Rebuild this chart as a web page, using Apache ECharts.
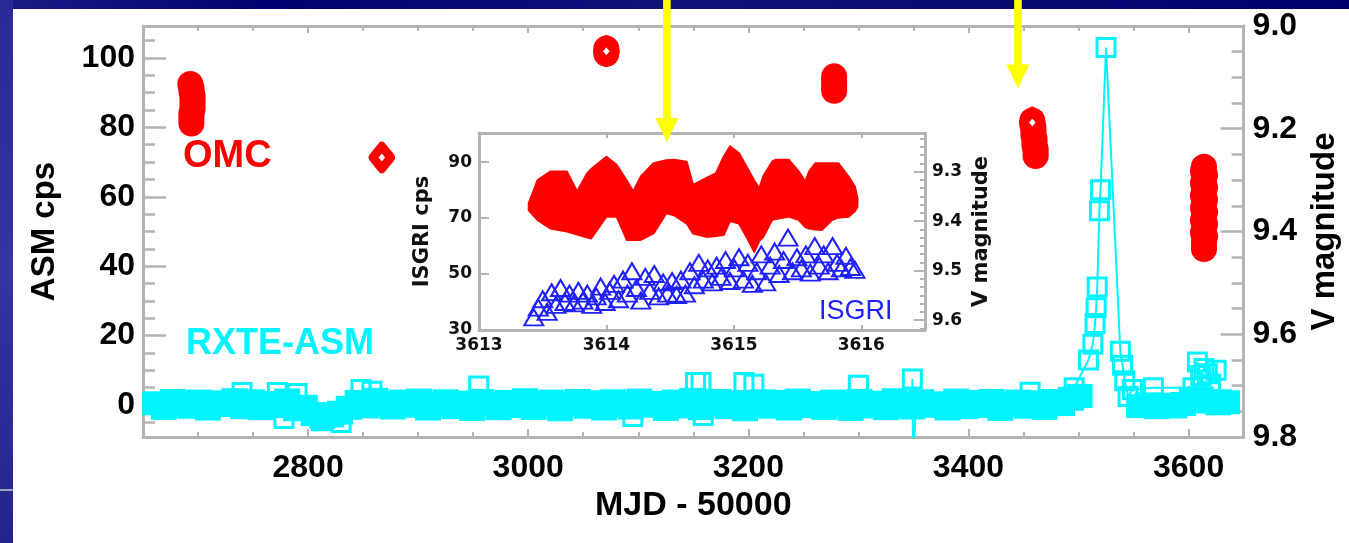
<!DOCTYPE html>
<html>
<head>
<meta charset="utf-8">
<script src="https://cdn.jsdelivr.net/npm/echarts@6/dist/echarts.min.js"></script>
<style>
  html, body { margin: 0; padding: 0; background: #fff; }
  #chart { width: 1349px; height: 543px; }
</style>
</head>
<body>
<div id="chart"></div>
<script>
// RXTE-ASM quiescent level, 8 d sampling (cps)
const asmQuietStart = 2661
const asmLateStart = 3555
const asmStep = 8
const asmQuiet = [
  0.5, -0.8, 1.2, 0.2, -0.5, 1.0, -1.0, 0.8, 0.0, 1.4,
  -0.6, 1.1, -0.9, 0.6, -0.3, 1.3, -1.2, -0.5, -2.6, -3.4,
  -3.0, -2.2, -0.8, 0.9, -0.4, 1.5, 0.2, -0.7, 1.0, -0.2,
  1.3, -1.0, 0.4, 1.1, -0.6, 0.7, -1.1, 1.2, 0.1, -0.9,
  0.9, -0.3, 1.4, -0.8, 0.5, 1.0, -1.2, 0.3, 1.2, -0.5,
  0.8, -1.0, 1.1, 0.0, -0.7, 1.3, -0.2, 0.6, -1.1, 1.0,
  -0.4, 1.5, -0.9, 0.4, 1.2, -0.6, 0.8, -1.2, 0.2, 1.1,
  -0.5, 0.9, -1.0, 1.3, -0.3, 0.6, -0.8, 1.0, 0.1, -1.1,
  1.2, -0.4, 0.7, -0.9, 1.4, 0.0, -0.7, 1.1, -0.2, 0.5,
  -1.0, 1.3, -0.6, 0.9, -0.3, 1.2, -1.1, 0.4, 1.0, -0.5,
  0.8, -0.8, 1.2, 0.3, 1.8, 2.6
]
const asmLate = [-0.3, 0.2, -0.6, 0.1, -0.4, 0.3, 1.5, 2.0, 1.0, 0.5, 0.8]

// isolated ASM points sticking out of the quiescent band
const asmOutlierDay = [2740, 2772, 2778, 2790, 2812, 2830, 2848, 2858, 2955, 3095, 3152, 3157, 3159, 3196, 3205, 3300, 3456]
const asmOutlierRate = [3.6, 3.6, -3.9, 3.3, -4.5, -5.0, 4.5, 4.0, 5.5, -3.3, 6.5, 6.5, -3.0, 6.5, 6.0, 5.7, 3.7]

// dropout near MJD 53350
const asmSpikeDay = [3349, 3350, 3352]
const asmSpikeRate = [7.5, -20, 0.5]

// the outburst
const asmFlareDay = [
  3496, 3509, 3513, 3515, 3516, 3517, 3519, 3520, 3525, 3538,
  3540, 3542, 3545, 3549, 3568, 3604, 3608, 3611, 3614, 3617,
  3620, 3625, 3630, 3636
]
const asmFlareRate = [
  5.0, 13.0, 17.5, 23.5, 28.0, 34.0, 56.0, 62.0, 103.0, 15.5,
  11.5, 7.0, 2.5, 4.5, 5.0, 5.0, 12.4, 8.5, 10.5, 9.0,
  6.0, 10.0, 1.5, 0.5
]

// OMC V magnitude, main panel (five visits)
const omcDay = [
  2693, 2694, 2694, 2695, 2695, 2695, 2695, 2695, 2694, 2694, 2694, 2694,
  3071, 3071, 3071,
  3278, 3278, 3278, 3278, 3278,
  3458, 3458, 3459, 3459, 3459, 3460, 3460, 3460, 3461, 3461, 3461,
  3614, 3613, 3615, 3614, 3613, 3615, 3614, 3613, 3615, 3614, 3613,
  3615, 3614, 3613, 3615, 3614, 3613, 3615, 3614, 3614, 3614
]
const omcMag = [
  9.113, 9.12, 9.127, 9.134, 9.141, 9.148, 9.155, 9.162, 9.169, 9.176, 9.183, 9.19,
  9.044, 9.049, 9.054,
  9.098, 9.105, 9.112, 9.119, 9.126,
  9.184, 9.191, 9.198, 9.205, 9.212, 9.219, 9.226, 9.233, 9.24, 9.247, 9.253,
  9.274, 9.282, 9.29, 9.298, 9.306, 9.314, 9.322, 9.33, 9.338, 9.346, 9.354,
  9.362, 9.37, 9.378, 9.386, 9.394, 9.402, 9.41, 9.418, 9.426, 9.434
]
const omcRingDay = [2867, 3071, 3458]
const omcRingMag = [9.256, 9.049, 9.188]

// inset: ISGRI rate, 0.035 d bins
const isgriStart = 3613.43
const isgriStep = 0.035
const isgriRate = [
  34.5, 38, 41, 36.5, 43.5, 39, 45, 40, 43, 39.5,
  44, 40.5, 43, 39, 42, 45.5, 40, 44, 46.5, 41,
  48, 43, 51, 45, 40.5, 49, 44, 50, 42, 47,
  43, 47.5, 42.5, 48, 43, 51, 46, 54, 48, 52,
  47, 53, 49, 55, 47.5, 52, 56, 48, 54, 46.5,
  51, 57, 47, 53, 58, 50, 55, 63, 51, 56,
  52, 57, 50.5, 60, 53, 57, 51, 60, 54, 52,
  56.5, 52.5, 51.5
]

// inset: OMC band (bright and faint envelope, V mag)
const omcInsetDay = [
  3613.39, 3613.46, 3613.56, 3613.69, 3613.77, 3613.85, 3613.88, 3614.00, 3614.08, 3614.16,
  3614.21, 3614.27, 3614.37, 3614.47, 3614.53, 3614.63, 3614.68, 3614.79, 3614.86, 3614.92,
  3614.97, 3615.04, 3615.10, 3615.16, 3615.20, 3615.23, 3615.30, 3615.33, 3615.43, 3615.51,
  3615.56, 3615.59, 3615.64, 3615.69, 3615.77, 3615.82, 3615.90, 3615.95, 3615.97
]
const omcInsetBright = [
  9.364, 9.317, 9.300, 9.300, 9.340, 9.303, 9.295, 9.270, 9.286, 9.318,
  9.340, 9.310, 9.283, 9.277, 9.276, 9.280, 9.327, 9.312, 9.303, 9.270,
  9.249, 9.263, 9.290, 9.318, 9.334, 9.310, 9.280, 9.276, 9.276, 9.300,
  9.320, 9.300, 9.283, 9.283, 9.283, 9.283, 9.310, 9.330, 9.354
]
const omcInsetFaint = [
  9.378, 9.398, 9.415, 9.421, 9.427, 9.433, 9.435, 9.391, 9.391, 9.438,
  9.438, 9.438, 9.425, 9.384, 9.388, 9.405, 9.425, 9.432, 9.430, 9.428,
  9.400, 9.405, 9.432, 9.462, 9.440, 9.432, 9.398, 9.396, 9.391, 9.398,
  9.412, 9.415, 9.417, 9.418, 9.398, 9.393, 9.391, 9.380, 9.371
]

// yellow arrows (MJD-50000, tip in ASM cps)
const arrowDay = [3126, 3445]
const arrowTipRate = [75.8, 91.2]

const RED = '#ff0000'
const CYAN = '#00f4ff'
const BLUE = '#2020ff'
const AXIS = '#b4b4b4'
const SANS = 'Liberation Sans'
const INSET_FONT = 'DejaVu Sans'

const chart = echarts.init(document.getElementById('chart'), null, { renderer: 'canvas' })

const asmQuietData = asmQuiet.map((v, i) => [asmQuietStart + asmStep * i, v])
  .concat(asmLate.map((v, i) => [asmLateStart + asmStep * i, v]))

function pairs(xs, ys) {
  return xs.map((x, i) => [x, ys[i]])
}

function mainAxisLabel(extra) {
  return Object.assign({
    fontFamily: SANS, fontWeight: 'bold', fontSize: 32, color: '#000'
  }, extra)
}

function insetLabel(extra) {
  return Object.assign({
    fontFamily: INSET_FONT, fontWeight: 'bold', fontSize: 17, color: '#111'
  }, extra)
}

const plain = v => String(v)
const oneDecimal = v => v.toFixed(1)

const axisLine = { show: true, onZero: false, lineStyle: { color: AXIS, width: 3 } }

function omcBandItem(params, api) {
  const upper = omcInsetDay.map((d, i) => api.coord([d, omcInsetBright[i]]))
  const lower = omcInsetDay.map((d, i) => api.coord([d, omcInsetFaint[i]])).reverse()
  return {
    type: 'polygon',
    shape: { points: upper.concat(lower) },
    style: { fill: RED, stroke: RED, lineWidth: 2, lineJoin: 'round' }
  }
}

const asmSquare = {
  symbol: 'rect', symbolSize: 18,
  itemStyle: { color: 'rgba(0,0,0,0)', borderColor: CYAN, borderWidth: 3, opacity: 1 }
}

const option = {
  animation: false,
  backgroundColor: '#fff',
  grid: [
    { left: 143, top: 26, width: 1105, height: 411 },
    { left: 479, top: 133, width: 446, height: 197, backgroundColor: '#fff', show: true, borderWidth: 0 }
  ],
  xAxis: [
    {
      gridIndex: 0, type: 'value', position: 'bottom', min: 2650, max: 3650,
      axisLine,
      axisTick: { inside: true, length: 8, lineStyle: { color: AXIS, width: 2 } },
      minorTick: { show: true, splitNumber: 4, length: 5, lineStyle: { color: AXIS, width: 2 } },
      splitLine: { show: false },
      axisLabel: mainAxisLabel({ margin: 15, showMinLabel: false, showMaxLabel: false, formatter: plain }),
      name: 'MJD - 50000', nameLocation: 'middle', nameGap: 51,
      nameTextStyle: { fontFamily: SANS, fontWeight: 'bold', fontSize: 34, color: '#000' }
    },
    {
      gridIndex: 0, type: 'value', position: 'top', min: 2650, max: 3650,
      axisLine,
      axisTick: { inside: true, length: 7, lineStyle: { color: AXIS, width: 2 } },
      minorTick: { show: true, splitNumber: 4, length: 5, lineStyle: { color: AXIS, width: 2 } },
      splitLine: { show: false },
      axisLabel: { show: false }
    },
    {
      gridIndex: 1, type: 'value', position: 'bottom', min: 3613, max: 3616.5, interval: 1,
      axisLine,
      axisTick: { inside: true, length: 5, lineStyle: { color: AXIS, width: 2 } },
      splitLine: { show: false },
      axisLabel: insetLabel({ margin: 7, showMaxLabel: false, formatter: plain })
    },
    {
      gridIndex: 1, type: 'value', position: 'top', min: 3613, max: 3616.5, interval: 1,
      axisLine,
      axisTick: { inside: true, length: 5, lineStyle: { color: AXIS, width: 2 } },
      splitLine: { show: false },
      axisLabel: { show: false }
    }
  ],
  yAxis: [
    {
      gridIndex: 0, type: 'value', position: 'left', min: -9.2, max: 109.2,
      axisLine,
      axisTick: { inside: true, length: 23, lineStyle: { color: AXIS, width: 2.5 } },
      minorTick: { show: true, splitNumber: 4, length: 12, lineStyle: { color: AXIS, width: 2.5 } },
      splitLine: { show: false },
      axisLabel: mainAxisLabel({ margin: 8, showMinLabel: false, showMaxLabel: false, formatter: plain }),
      name: 'ASM cps', nameLocation: 'middle', nameGap: 82,
      nameTextStyle: { fontFamily: SANS, fontWeight: 'bold', fontSize: 33, color: '#000' }
    },
    {
      gridIndex: 0, type: 'value', position: 'right', inverse: true, min: 9.0, max: 9.8,
      axisLine,
      axisTick: { inside: true, length: 23, lineStyle: { color: AXIS, width: 2.5 } },
      minorTick: { show: true, splitNumber: 4, length: 12, lineStyle: { color: AXIS, width: 2.5 } },
      splitLine: { show: false },
      axisLabel: mainAxisLabel({ margin: 9, formatter: oneDecimal }),
      name: 'V magnitude', nameLocation: 'middle', nameGap: 62,
      nameTextStyle: { fontFamily: SANS, fontWeight: 'bold', fontSize: 33, color: '#000' }
    },
    {
      gridIndex: 1, type: 'value', position: 'left', min: 30, max: 100.4, interval: 20,
      axisLine,
      axisTick: { inside: true, length: 10, lineStyle: { color: AXIS, width: 2 } },
      splitLine: { show: false },
      axisLabel: insetLabel({ margin: 7, showMaxLabel: false }),
      name: 'ISGRI cps', nameLocation: 'middle', nameGap: 46,
      nameTextStyle: { fontFamily: INSET_FONT, fontWeight: 'bold', fontSize: 21, color: '#111' }
    },
    {
      gridIndex: 1, type: 'value', position: 'right', inverse: true, min: 9.222, max: 9.62,
      axisLine,
      axisTick: { inside: true, length: 11, lineStyle: { color: AXIS, width: 2 } },
      minorTick: { show: true, splitNumber: 6, length: 5, lineStyle: { color: AXIS, width: 2 } },
      splitLine: { show: false },
      axisLabel: insetLabel({ margin: 7, showMinLabel: false, showMaxLabel: false, formatter: oneDecimal }),
      name: 'V magnitude', nameLocation: 'middle', nameGap: 46,
      nameTextStyle: { fontFamily: INSET_FONT, fontWeight: 'bold', fontSize: 21, color: '#111' }
    }
  ],
  series: [
    {
      name: 'ASM quiescent', type: 'scatter', xAxisIndex: 0, yAxisIndex: 0,
      symbol: 'rect', symbolSize: [26, 24],
      itemStyle: { color: CYAN, opacity: 1 },
      data: asmQuietData, z: 3
    },
    Object.assign({
      name: 'ASM outliers', type: 'scatter', xAxisIndex: 0, yAxisIndex: 0,
      data: pairs(asmOutlierDay, asmOutlierRate), z: 3
    }, asmSquare),
    Object.assign({
      name: 'ASM dropout', type: 'line', xAxisIndex: 0, yAxisIndex: 0,
      showSymbol: true, showAllSymbol: true,
      lineStyle: { color: CYAN, width: 2 },
      data: pairs(asmSpikeDay, asmSpikeRate), z: 3
    }, asmSquare),
    Object.assign({
      name: 'ASM outburst', type: 'line', xAxisIndex: 0, yAxisIndex: 0,
      showSymbol: true, showAllSymbol: true,
      lineStyle: { color: CYAN, width: 2 },
      data: pairs(asmFlareDay, asmFlareRate), z: 3
    }, asmSquare),
    {
      name: 'OMC', type: 'scatter', xAxisIndex: 0, yAxisIndex: 1,
      symbol: 'circle', symbolSize: 26,
      itemStyle: { color: RED, opacity: 1 },
      data: pairs(omcDay, omcMag), z: 4
    },
    {
      name: 'OMC ring', type: 'scatter', xAxisIndex: 0, yAxisIndex: 1,
      symbol: 'diamond', symbolSize: [18, 22],
      itemStyle: { color: '#fff', borderColor: RED, borderWidth: 9, borderJoin: 'round', opacity: 1 },
      data: pairs(omcRingDay, omcRingMag), z: 5
    },
    {
      name: 'OMC inset', type: 'custom', xAxisIndex: 2, yAxisIndex: 3,
      renderItem: omcBandItem,
      data: [[omcInsetDay[0], omcInsetBright[0]]], z: 3
    },
    {
      name: 'ISGRI', type: 'scatter', xAxisIndex: 2, yAxisIndex: 2,
      symbol: 'triangle', symbolSize: [19, 16],
      itemStyle: { color: 'rgba(0,0,0,0)', borderColor: BLUE, borderWidth: 2, opacity: 1 },
      data: isgriRate.map((v, i) => [isgriStart + isgriStep * i, v]), z: 4
    }
  ]
}

chart.setOption(option)

// decorations: slide frame, panel labels, arrows
const graphic = [
  {
    type: 'rect', shape: { x: 0, y: 0, width: 1349, height: 9 }, z: 0,
    style: { fill: new echarts.graphic.LinearGradient(0, 0, 1, 0, [
      { offset: 0, color: '#1c1c86' }, { offset: 0.2, color: '#000070' },
      { offset: 0.5, color: '#12127c' }, { offset: 1, color: '#00006c' }
    ]) }
  },
  {
    type: 'rect', shape: { x: 0, y: 0, width: 13, height: 543 }, z: 0,
    style: { fill: new echarts.graphic.LinearGradient(0, 0, 0, 1, [
      { offset: 0, color: '#2a2a96' }, { offset: 0.5, color: '#3434a2' }, { offset: 1, color: '#24248e' }
    ]) }
  },
  { type: 'rect', shape: { x: 0, y: 489, width: 13, height: 2 }, z: 1, style: { fill: '#a0a0c0' } },
  {
    type: 'text', x: 183, y: 157, z: 50,
    style: { text: 'OMC', fill: RED, font: `bold 38px "${SANS}"`, verticalAlign: 'middle' }
  },
  {
    type: 'text', x: 186, y: 344, z: 50,
    style: { text: 'RXTE-ASM', fill: CYAN, font: `bold 36px "${SANS}"`, verticalAlign: 'middle' }
  },
  {
    type: 'text', x: 819, y: 312, z: 50,
    style: { text: 'ISGRI', fill: BLUE, font: `27px "${SANS}"`, verticalAlign: 'middle' }
  }
]

arrowDay.forEach((d, i) => {
  const [cx, ty] = chart.convertToPixel({ xAxisIndex: 0, yAxisIndex: 0 }, [d, arrowTipRate[i]])
  const shaft = 3.8
  const head = 11.5
  const headLen = 24
  graphic.push({
    type: 'polygon', z: 100,
    shape: {
      points: [
        [cx - shaft, 0], [cx + shaft, 0], [cx + shaft, ty - headLen], [cx + head, ty - headLen],
        [cx, ty], [cx - head, ty - headLen], [cx - shaft, ty - headLen]
      ]
    },
    style: { fill: '#ffff00' }
  })
})

chart.setOption({ graphic })
</script>
</body>
</html>
